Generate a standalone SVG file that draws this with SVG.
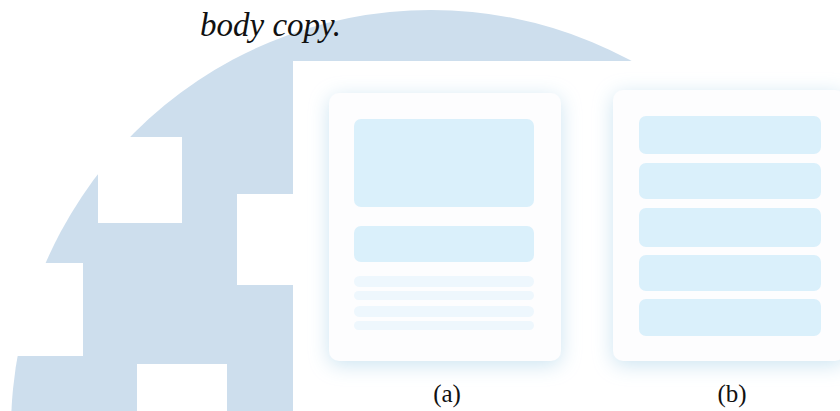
<svg xmlns="http://www.w3.org/2000/svg" width="840" height="411" viewBox="0 0 840 411">
  <defs>
    <filter id="glow" x="-25%" y="-25%" width="150%" height="150%">
      <feDropShadow dx="0" dy="4" stdDeviation="10" flood-color="#c6e1f0" flood-opacity="0.9"/>
    </filter>
    <style>
      .bg { fill: #cddeed; }
      .cut { fill: #ffffff; }
      .card { fill: #fdfdfe; filter: url(#glow); }
      .box { fill: #daf0fb; }
      .line { fill: #eef7fd; }
      .cap { font-family: "Liberation Serif", "Times New Roman", serif; font-size: 25px; fill: #111111; text-anchor: middle; }
      .title { font-family: "Liberation Serif", "Times New Roman", serif; font-size: 33px; font-style: italic; fill: #111111; }
    </style>
  </defs>
  <rect width="840" height="411" fill="#ffffff"/>
  <g id="background">
    <circle class="bg" cx="431" cy="430" r="420"/>
    <rect class="cut" x="98" y="137" width="84" height="86"/>
    <rect class="cut" x="237" y="194" width="57" height="91"/>
    <rect class="cut" x="0" y="263" width="83" height="93"/>
    <rect class="cut" x="137" y="364" width="90" height="47"/>
    <rect class="cut" x="293" y="61" width="547" height="350"/>
  </g>
  <text class="title" x="200" y="36">body copy.</text>
  <g id="card-a">
    <rect class="card" x="329" y="93" width="232" height="268" rx="10"/>
    <rect class="box" x="354" y="119" width="180" height="88" rx="7"/>
    <rect class="box" x="354" y="226" width="180" height="36" rx="7"/>
    <rect class="line" x="354" y="276" width="180" height="11" rx="5.5"/>
    <rect class="line" x="354" y="291" width="180" height="9" rx="4.5"/>
    <rect class="line" x="354" y="306" width="180" height="11" rx="5.5"/>
    <rect class="line" x="354" y="321" width="180" height="9" rx="4.5"/>
    <text class="cap" x="447" y="402">(a)</text>
  </g>
  <g id="card-b">
    <rect class="card" x="613" y="90" width="232" height="271" rx="10"/>
    <rect class="box" x="639" y="116" width="182" height="38" rx="7"/>
    <rect class="box" x="639" y="163" width="182" height="36" rx="7"/>
    <rect class="box" x="639" y="208" width="182" height="39" rx="7"/>
    <rect class="box" x="639" y="255" width="182" height="36" rx="7"/>
    <rect class="box" x="639" y="299" width="182" height="37" rx="7"/>
    <text class="cap" x="732" y="402">(b)</text>
  </g>
  <g id="connectors"/>
</svg>
